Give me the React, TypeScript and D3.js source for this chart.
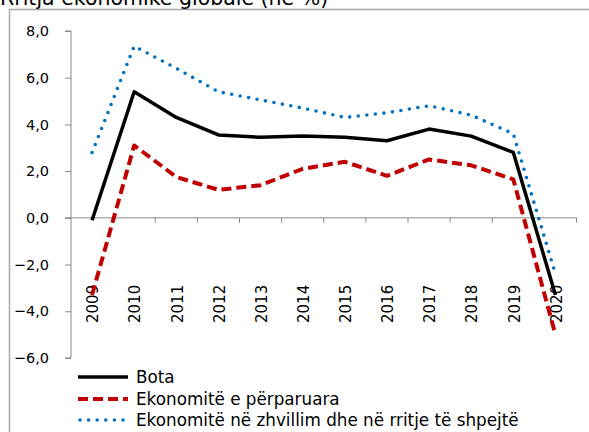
import React, { useRef, useEffect } from "react";
import * as d3 from "d3";

const years = ["2009", "2010", "2011", "2012", "2013", "2014", "2015", "2016", "2017", "2018", "2019", "2020"];
const bota = [-0.1, 5.4, 4.3, 3.55, 3.45, 3.5, 3.45, 3.3, 3.8, 3.5, 2.8, -3.3];
const perparuara = [-3.3, 3.1, 1.75, 1.2, 1.4, 2.1, 2.4, 1.8, 2.5, 2.25, 1.65, -5.0];
const zhvillim = [2.8, 7.35, 6.4, 5.4, 5.05, 4.7, 4.3, 4.5, 4.8, 4.4, 3.6, -2.4];
const yTicks = [-6, -4, -2, 0, 2, 4, 6, 8];

const series = [
  { name: "Bota", values: bota, color: "#000000", width: 3.5, dash: null, cap: "butt" },
  { name: "Ekonomitë e përparuara", values: perparuara, color: "#C00000", width: 4, dash: "10,5", cap: "butt" },
  { name: "Ekonomitë në zhvillim dhe në rritje të shpejtë", values: zhvillim, color: "#0070C0", width: 3.6, dash: "0,8.6", cap: "round" },
];

const App = () => {
  const svgRef = useRef<SVGSVGElement>(null);

  useEffect(() => {
    const width = 589;
    const height = 432;
    const font = "'DejaVu Sans', Verdana, sans-serif";
    const axisColor = "#888888";

    const svg = d3.select(svgRef.current).attr("width", width).attr("height", height);
    svg.selectAll("*").remove();

    // frame and title (title is clipped at the top, as in the source)
    svg.append("rect")
      .attr("x", 9.5).attr("y", 9.5)
      .attr("width", 600).attr("height", 450)
      .attr("fill", "white").attr("stroke", "#a6a6a6").attr("stroke-width", 1.5);

    svg.append("text")
      .attr("x", 0).attr("y", 5)
      .attr("font-family", font).attr("font-size", 20.5)
      .attr("fill", "#000")
      .text("Rritja ekonomike globale (në %)");

    const x = d3.scaleBand().domain(years).range([71, 576.5]);
    const y = d3.scaleLinear().domain([-6, 8]).range([358, 31]);

    // y axis
    const yAxis = svg.append("g").attr("transform", "translate(71,0)")
      .call(d3.axisLeft(y).tickValues(yTicks).tickSize(6).tickPadding(16)
        .tickFormat((d) => d3.format(".1f")(d as number).replace(".", ",")));
    yAxis.select(".domain").attr("stroke", axisColor).attr("d", `M-6,${y(8)}H0V${y(-6)}H-6`);
    yAxis.selectAll(".tick line").attr("stroke", axisColor);
    yAxis.selectAll(".tick text")
      .attr("font-family", font).attr("font-size", 14.5).attr("fill", "#000");

    // x axis on the zero line
    const xg = svg.append("g");
    xg.append("line")
      .attr("x1", 65).attr("x2", 576.5)
      .attr("y1", y(0)).attr("y2", y(0))
      .attr("stroke", axisColor);
    const bounds = years.map((yr) => (x(yr) as number) + x.bandwidth());
    xg.selectAll("line.tk").data(bounds).enter().append("line")
      .attr("class", "tk")
      .attr("x1", (d) => d).attr("x2", (d) => d)
      .attr("y1", y(0)).attr("y2", y(0) + 5)
      .attr("stroke", axisColor);

    xg.selectAll("text").data(years).enter().append("text")
      .attr("transform", (d) => `translate(${(x(d) as number) + x.bandwidth() / 2 + 1},323) rotate(-90)`)
      .attr("dy", "0.35em")
      .attr("font-family", font).attr("font-size", 15)
      .attr("fill", "#000")
      .text((d) => d);

    // lines
    const line = d3.line<number>()
      .x((_, i) => (x(years[i]) as number) + x.bandwidth() / 2)
      .y((d) => y(d));

    series.forEach((s) => {
      const p = svg.append("path")
        .datum(s.values)
        .attr("d", line)
        .attr("fill", "none")
        .attr("stroke", s.color)
        .attr("stroke-width", s.width)
        .attr("stroke-linecap", s.cap)
        .attr("stroke-linejoin", "round");
      if (s.dash) p.attr("stroke-dasharray", s.dash);
    });

    // legend
    const legendY = [377, 399, 420];
    series.forEach((s, i) => {
      const g = svg.append("g");
      const l = g.append("line")
        .attr("x1", s.cap === "round" ? 80 : 78).attr("x2", 128)
        .attr("y1", legendY[i]).attr("y2", legendY[i])
        .attr("stroke", s.color)
        .attr("stroke-width", s.width)
        .attr("stroke-linecap", s.cap);
      if (s.dash) l.attr("stroke-dasharray", s.dash);
      g.append("text")
        .attr("x", 136).attr("y", legendY[i])
        .attr("dy", "0.35em")
        .attr("font-family", font).attr("font-size", 16.8)
        .attr("fill", "#000")
        .text(s.name);
    });
  }, []);

  return (
    <div style={{ position: "absolute", left: 0, top: 0 }}>
      <svg ref={svgRef} style={{ display: "block" }}></svg>
    </div>
  );
};

export default App;
